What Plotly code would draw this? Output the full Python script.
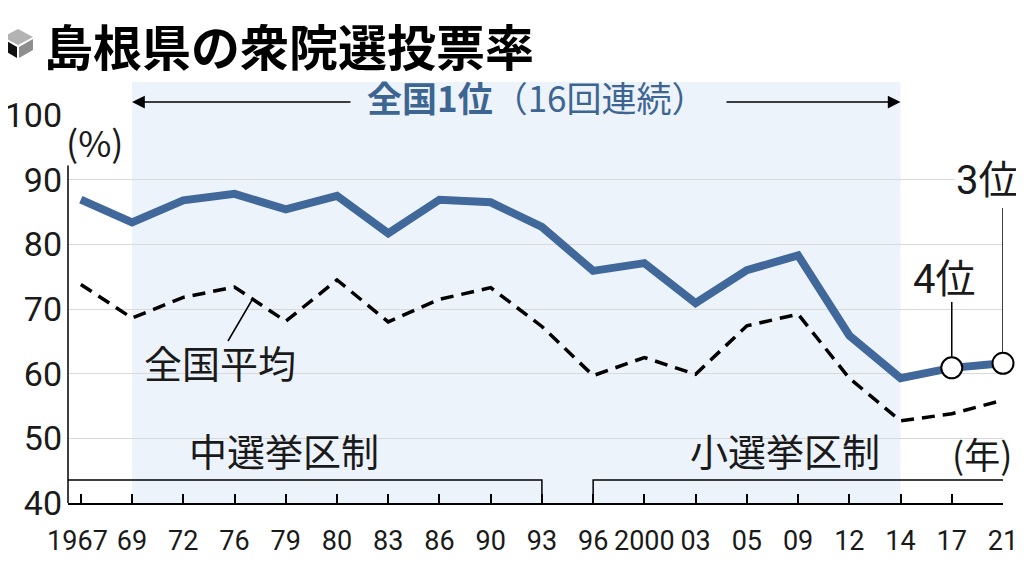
import plotly.graph_objects as go

# 衆院選の実施年（横軸は等間隔）
years = ["1967", "69", "72", "76", "79", "80", "83", "86", "90", "93",
         "96", "2000", "03", "05", "09", "12", "14", "17", "21"]
# 島根県の投票率（%）
shimane = [86.9, 83.4, 86.8, 87.8, 85.4, 87.5, 81.7, 86.9, 86.5, 82.7,
           75.9, 77.1, 70.9, 76.0, 78.3, 65.9, 59.3, 60.9, 61.6]
# 全国平均（%）
national = [73.8, 68.6, 71.8, 73.4, 68.1, 74.5, 68.0, 71.5, 73.3, 67.3,
            59.7, 62.5, 59.9, 67.4, 69.2, 59.3, 52.7, 53.8, 55.9]
# 全国順位の注記（1位でなかった回）
rank_years = ["17", "21"]
rank_labels = ["4位", "3位"]
y_ticks = [40, 50, 60, 70, 80, 90, 100]

# ページ本文の余白(8px)ぶん図を小さくして、画面上の位置を合わせる
OFF = 8
W, H = 1024, 576
ML, MR, MT, MB = 68, 21, 115, 73   # 画面上のプロット領域の余白
PW, PH = W - ML - MR, H - MT - MB
X0, X1 = -0.25, len(years) - 1
Y0, Y1 = 40, 100

NUM = "Roboto, Liberation Sans, Noto Sans CJK JP"
JP = "Noto Sans CJK JP"
BLUE = "#41689b"
INK = "#1a1a1a"

idx = list(range(len(years)))
tick_text = [y + "\u00a0" if y == "1967" else y for y in years]


def px_x(px):
    return X0 + (px - ML) / PW * (X1 - X0)


def px_y(py):
    return Y1 - (py - MT) / PH * (Y1 - Y0)


def pap_x(px):
    return (px - ML) / PW


def pap_y(py):
    return (H - MB - py) / PH


def idx_px(i):
    return ML + (i - X0) / (X1 - X0) * PW


fig = go.Figure()

fig.add_trace(go.Scatter(x=idx, y=national, mode="lines",
                         line=dict(color="black", width=3.5, dash="13px,8px"),
                         hoverinfo="skip"))
fig.add_trace(go.Scatter(x=idx, y=shimane, mode="lines",
                         line=dict(color=BLUE, width=8), hoverinfo="skip"))
rank_idx = [years.index(y) for y in rank_years]
fig.add_trace(go.Scatter(x=rank_idx, y=[shimane[i] for i in rank_idx], mode="markers",
                         marker=dict(size=21, color="white", line=dict(color="black", width=2)),
                         cliponaxis=False, hoverinfo="skip"))

shapes = []
# 全国1位の期間（69〜14年）の網掛け
shapes.append(dict(type="rect", xref="paper", yref="paper",
                   x0=(1 - X0) / (X1 - X0), x1=(16 - X0) / (X1 - X0),
                   y0=0, y1=pap_y(82), fillcolor="#edf3fa", line_width=0, layer="below"))
# 縦軸の線（90付近まで）
shapes.append(dict(type="line", xref="paper", yref="paper", x0=0, x1=0,
                   y0=0, y1=(92.2 - Y0) / (Y1 - Y0), line=dict(color="black", width=1.5)))
# 選挙制度の括弧
b = px_y(480)
shapes.append(dict(type="path", xref="x", yref="y",
                   path=f"M {X0},{b} H 9 V {Y0}", line=dict(color="black", width=1.5)))
shapes.append(dict(type="path", xref="x", yref="y",
                   path=f"M 10,{Y0} V {b} H {X1}", line=dict(color="black", width=1.5)))
# 順位の引き出し線
for i, top in zip(rank_idx, [302, 208]):
    shapes.append(dict(type="line", xref="x", yref="y", x0=i, x1=i,
                       y0=shimane[i] + 1.7, y1=px_y(top), line=dict(color="black", width=1.5)))
# 全国平均の引き出し線
shapes.append(dict(type="line", xref="x", yref="y", x0=px_x(228), y0=px_y(341),
                   x1=px_x(252), y1=px_y(300), line=dict(color="black", width=1.5)))


# タイトル前のキューブ
def poly(pts):
    return "M " + " L ".join(f"{pap_x(a):.5f},{pap_y(c):.5f}" for a, c in pts) + " Z"


for pts, col in [([(3, 37), (18, 29), (33, 37), (18, 45)], "#b3b3b3"),
                 ([(3, 39), (17, 47), (17, 58), (3, 50)], "#111111"),
                 ([(19, 47), (33, 39), (33, 50), (19, 58)], "#8e8e8e")]:
    shapes.append(dict(type="path", xref="paper", yref="paper", path=poly(pts),
                       fillcolor=col, line_width=0))

ann = []


def label(text, px, py, size, color=INK, family=JP, **kw):
    ann.append(dict(text=text, xref="paper", yref="paper", x=pap_x(px), y=pap_y(py),
                    xanchor=kw.pop("xanchor", "center"), yanchor="middle", showarrow=False,
                    font=dict(size=size, color=color, family=family), **kw))


label("<b>島根県の衆院選投票率</b>", 42, 44, 49, color="black", xanchor="left")
label("(%)", 95, 141, 36)
label("<b>全国1位</b>（16回連続）", 537, 97, 35, color="#3d6592")
label("全国平均", 220, 361, 38)
label("中選挙区制", 284, 449, 38)
label("小選挙区制", 785, 449, 38)
label("(年)", 982, 453, 36)
for txt, (px, py) in zip(rank_labels, [(944, 279), (987, 180)]):
    label(txt, px, py, 40, family=NUM, bgcolor="white" if txt == "3位" else None)

# 「全国1位」の両矢印（紙座標で、範囲外でも表示されるように）
for tip, tail in [(1, 352), (16, 725)]:
    tip_px = idx_px(tip)
    ann.append(dict(x=pap_x(tip_px), y=pap_y(102), xref="paper", yref="paper",
                    ax=tail - tip_px, ay=0, text="", showarrow=True,
                    arrowhead=2, arrowsize=1.7, arrowwidth=1.5, arrowcolor="black"))

fig.update_layout(
    width=W - OFF, height=H - OFF,
    margin=dict(l=ML - OFF, r=MR, t=MT - OFF, b=MB),
    paper_bgcolor="white", plot_bgcolor="rgba(0,0,0,0)",
    showlegend=False,
    shapes=shapes, annotations=ann,
    xaxis=dict(range=[X0, X1], tickmode="array", tickvals=idx, ticktext=tick_text,
               tickfont=dict(size=27, color=INK, family=NUM), tickangle=0,
               ticks="inside", ticklen=9, tickwidth=1.5, tickcolor="black",
               showline=True, linecolor="black", linewidth=1.5, automargin=False,
               showgrid=False, zeroline=False, ticklabelstandoff=13),
    yaxis=dict(range=[Y0, Y1], tickmode="array", tickvals=y_ticks,
               tickfont=dict(size=34, color=INK, family=NUM), automargin=False,
               showgrid=True, gridcolor="#d9d9d9", gridwidth=1.3,
               zeroline=False, showline=False, ticks="", ticklabelstandoff=5),
)

fig.write_html("out.html")
